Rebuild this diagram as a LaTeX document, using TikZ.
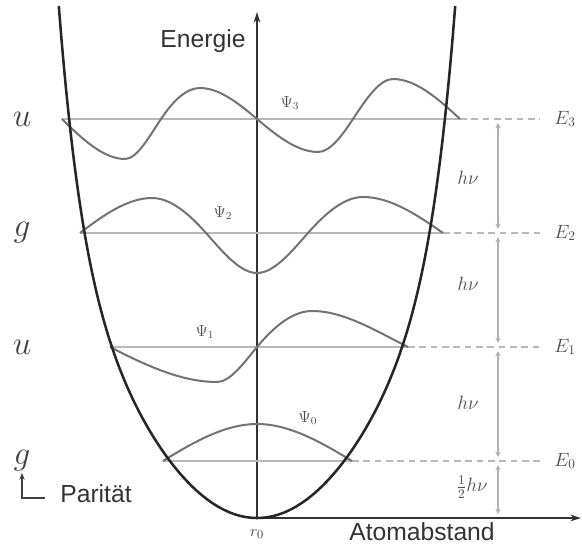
\documentclass[tikz,border=0pt]{standalone}
\usepackage{fontspec}
\newfontfamily\achsenfont{Liberation Sans}
\usetikzlibrary{arrows.meta}

\begin{document}
\begin{tikzpicture}[x=0.75pt, y=0.75pt,
    potential/.style={line width=1.9pt, black!85},
    achse/.style={line width=1.1pt, black!80, -{Stealth[length=8pt, width=5pt]}},
    niveau/.style={line width=0.8pt, black!28},
    hilfslinie/.style={line width=0.8pt, black!28, dash pattern=on 5pt off 3.5pt},
    psi/.style={line width=1.5pt, black!55},
    quant/.style={line width=0.8pt, black!30, {Stealth[length=4pt, width=4pt]}-{Stealth[length=4pt, width=4pt]}, shorten >=3pt, shorten <=3pt},
    achsentext/.style={font=\achsenfont\fontsize{18.5}{22}\selectfont, text=black!80},
    paritext/.style={font=\fontsize{25}{30}\selectfont, text=black!75},
    niveautext/.style={font=\fontsize{14}{17}\selectfont, text=black!70},
    quanttext/.style={font=\fontsize{14}{17}\selectfont, text=black!70},
    psitext/.style={font=\fontsize{12}{15}\selectfont, text=black!70}]

    \useasboundingbox (-257,-28) rectangle (325,518);

    % Achsen
    \coordinate (r0) at (0,0);
    \coordinate (ytop) at (0,506);
    \coordinate (xend) at (324,0);
    \draw[achse] (r0) -- (ytop);
    \draw[achse] (r0) -- (xend);
    \node[achsentext] (energie) at (-54,477) {Energie};
    \node[achsentext] (abstand) at (165,-14) {Atomabstand};
    \node[font=\fontsize{13}{16}\selectfont, text=black!75] (r0text) at (0,-16) {$r_0$};

    % Niveaus
    \foreach \n/\h/\l/\r/\p in {0/57/-94/95/g, 1/171/-147/151/u, 2/285/-177/186/g, 3/399/-195/203/u} {
        \coordinate (L\n) at (\l,\h);
        \coordinate (R\n) at (\r,\h);
        \coordinate (A\n) at (241,\h);
        \node[niveautext] (E\n) at (308,\h) {$E_\n$};
        \node[paritext] (par\n) at (-235,\h) {$\p$};
        \draw[niveau] (L\n) -- (R\n);
        \draw[hilfslinie] (R\n) -- (283,\h);
    }

    % Quanten
    \coordinate (A-1) at (241,0);
    \draw[quant] (A3) -- (A2);
    \draw[quant] (A2) -- (A1);
    \draw[quant] (A1) -- (A0);
    \draw[quant] (A0) -- (A-1);
    \node[quanttext] (hv3) at (211,340) {$h\nu$};
    \node[quanttext] (hv2) at (211,234) {$h\nu$};
    \node[quanttext] (hv1) at (211,115) {$h\nu$};
    \node[quanttext] (hv0) at (215,31) {$\textstyle\frac{1}{2}h\nu$};

    % Wellenfunktionen
    \draw[psi, shift={(0,399)}] (-195,0) .. controls (-174,-20.9) and (-153,-40) .. (-132,-40)
        .. controls (-120,-40) and (-108,-18) .. (-96,0)
        .. controls (-83,19.5) and (-70,31) .. (-57,31)
        .. controls (-38,31) and (-19,16.2) .. (0,0)
        .. controls (20.3,-17.3) and (40.7,-33) .. (61,-33)
        .. controls (72.7,-33) and (84.3,-17.8) .. (96,0)
        .. controls (109.3,20.3) and (122.7,40) .. (136,40)
        .. controls (158.3,40) and (180.7,20.9) .. (203,0);
    \draw[psi, shift={(0,285)}] (-177,0) .. controls (-153,18.3) and (-129,35) .. (-105,35)
        .. controls (-87,35) and (-69,20.3) .. (-51,0)
        .. controls (-34,-19.1) and (-17,-40) .. (0,-40)
        .. controls (17,-40) and (34,-19.2) .. (51,0)
        .. controls (69.3,20.7) and (87.7,36) .. (106,36)
        .. controls (132.7,36) and (159.3,18.9) .. (186,0);
    \draw[psi, shift={(0,171)}] (-147,0) .. controls (-111.3,-18.3) and (-75.7,-35) .. (-40,-35)
        .. controls (-26.7,-35) and (-13.3,-16) .. (0,0)
        .. controls (18.3,22) and (36.7,36) .. (55,36)
        .. controls (87,36) and (119,16) .. (151,0);
    \draw[psi, shift={(0,57)}] (-94,0) .. controls (-62.7,19.4) and (-31.3,37) .. (0,37)
        .. controls (31.7,37) and (63.3,19.4) .. (95,0);
    \node[psitext] (psi3) at (33,415) {$\Psi_3$};
    \node[psitext] (psi2) at (-34,305) {$\Psi_2$};
    \node[psitext] (psi1) at (-52,186) {$\Psi_1$};
    \node[psitext] (psi0) at (51,100) {$\Psi_0$};

    % Potential
    \draw[potential] plot[domain=-198.2:198.2, samples=161, smooth] (\x, {0.75*(\x/10)*(\x/10)*(1+pow(abs(\x)/207,7))});

    % Paritaet
    \coordinate (pecke) at (-235,20);
    \coordinate (pende) at (-212,20);
    \coordinate (pspitze) at (-235,45);
    \draw[line width=0.9pt, black!75, -{Stealth[length=5pt, width=4pt]}] (pende) -- (pecke) -- (pspitze);
    \node[achsentext] (paritaet) at (-161,24) {Parität};
\end{tikzpicture}
\end{document}
